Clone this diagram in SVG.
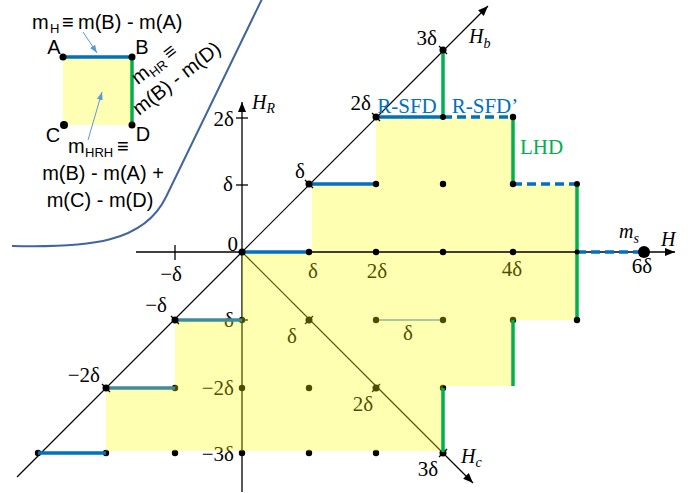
<svg xmlns="http://www.w3.org/2000/svg" width="700" height="493" viewBox="0 0 700 493">
<defs>
<marker id="ah" markerUnits="userSpaceOnUse" markerWidth="10" markerHeight="8" refX="10" refY="4" orient="auto"><path d="M0,0 L10,4 L0,8 z" fill="#000"/></marker>
<marker id="ahb" markerUnits="userSpaceOnUse" markerWidth="8" markerHeight="6" refX="8" refY="3" orient="auto"><path d="M0,0 L8,3 L0,6 z" fill="#5B9BD5"/></marker>
<style>
.ax{stroke:#000;stroke-width:1.3;fill:none}
.dg{stroke:#000;stroke-width:1.2;fill:none}
.bl{stroke:#0070C0;stroke-width:3.5;fill:none}
.bd{stroke:#0070C0;stroke-width:3.5;fill:none;stroke-dasharray:9 5}
.tl{stroke:#3F8C98;stroke-width:3.5;fill:none}
.gr{stroke:#00B050;stroke-width:3.5;fill:none}
.dot{fill:#000}
.m{font-family:"Liberation Serif","DejaVu Serif",serif;font-size:21px;fill:#000}
.mi{font-family:"Liberation Serif","DejaVu Serif",serif;font-size:20px;font-style:italic;fill:#000}
.sub{font-size:14px}
.s{font-family:"Liberation Sans",Arial,sans-serif;font-size:20px;fill:#000}
.ss{font-family:"Liberation Sans",Arial,sans-serif;font-size:13px;fill:#000}
.lb{font-family:"Liberation Serif","DejaVu Serif",serif;font-size:21px}
.ar{stroke:#5B9BD5;stroke-width:1;fill:none}
</style>
</defs>

<g id="inset">
<path d="M 12 246 C 90 248 144 242.5 166 197 L 262 -1" fill="none" stroke="#41659C" stroke-width="2"/>
<rect x="63" y="57" width="69" height="68" fill="#FFFFB3"/>
<line class="bl" x1="63" y1="57" x2="132" y2="57"/>
<line class="gr" x1="132" y1="57" x2="132" y2="125"/>
<circle class="dot" cx="63" cy="57" r="3.5"/>
<circle class="dot" cx="132" cy="57" r="3.5"/>
<circle class="dot" cx="64" cy="125" r="4"/>
<circle class="dot" cx="132" cy="125" r="3.5"/>
<text class="s" x="54" y="54" text-anchor="middle" font-size="18">A</text>
<text class="s" x="142" y="54" text-anchor="middle" font-size="18">B</text>
<text class="s" x="53" y="142" text-anchor="middle" font-size="18">C</text>
<text class="s" x="143" y="141" text-anchor="middle" font-size="18">D</text>
<text class="s" x="32" y="29">m</text>
<text class="ss" x="50" y="33">H</text>
<text class="s" x="62" y="29">≡</text>
<text class="s" x="78" y="29">m(B) - m(A)</text>
<line class="ar" x1="83" y1="32" x2="97" y2="53" marker-end="url(#ahb)"/>
<text class="s" x="68" y="153">m</text>
<text class="ss" x="85" y="157">HRH</text>
<text class="s" x="117" y="153">≡</text>
<text class="s" x="103" y="180" text-anchor="middle">m(B) - m(A) +</text>
<text class="s" x="100" y="207" text-anchor="middle">m(C) - m(D)</text>
<line class="ar" x1="88" y1="140" x2="102" y2="92" marker-end="url(#ahb)"/>
<g transform="translate(139,116) rotate(-38)">
<text class="s" x="18" y="-25">m</text>
<text class="ss" x="35" y="-21">HR</text>
<text class="s" x="58" y="-25">≡</text>
<text class="s" x="0" y="0">m(B) - m(D)</text>
</g>
</g>

<g id="under">
<line class="dg" x1="17" y1="477" x2="488" y2="6" marker-end="url(#ah)"/>
<line class="dg" x1="242" y1="252" x2="473" y2="483" marker-end="url(#ah)"/>
<line class="ax" x1="242" y1="492" x2="242" y2="102" marker-end="url(#ah)"/>
<line class="ax" x1="236" y1="118" x2="248" y2="118"/>
<line class="ax" x1="236" y1="185" x2="248" y2="185"/>
<line class="ax" x1="236" y1="320" x2="248" y2="320"/>
<line class="ax" x1="175" y1="245" x2="175" y2="260"/>
<line x1="376" y1="320" x2="443" y2="320" stroke="#5B9BD5" stroke-width="1.5"/>
<g class="dot">
<circle cx="242" cy="320" r="3.2"/><circle cx="309" cy="320" r="3.5"/><circle cx="376" cy="320" r="3.2"/><circle cx="443" cy="320" r="3.2"/><circle cx="513" cy="320" r="3.2"/>
<circle cx="175" cy="388" r="3.2"/><circle cx="242" cy="388" r="3.2"/><circle cx="309" cy="388" r="3.2"/><circle cx="376" cy="388" r="3.5"/><circle cx="443" cy="388" r="3.2"/>
<circle cx="38" cy="453" r="3.2"/><circle cx="106" cy="453" r="3.2"/><circle cx="175" cy="453" r="3.2"/><circle cx="242" cy="453" r="3.2"/><circle cx="309" cy="453" r="3.2"/><circle cx="376" cy="453" r="3.2"/><circle cx="443" cy="453" r="3.5"/>
</g>
<g class="dg">
<line x1="305" y1="324" x2="313" y2="316"/>
<line x1="372" y1="392" x2="380" y2="384"/>
<line x1="439" y1="457" x2="447" y2="449"/>
</g>
<text class="m" x="313" y="278" text-anchor="middle">δ</text>
<text class="m" x="377" y="278" text-anchor="middle">2δ</text>
<text class="m" x="512" y="276" text-anchor="middle">4δ</text>
<text class="m" x="234" y="327" text-anchor="end">−δ</text>
<text class="m" x="234" y="395" text-anchor="end">−2δ</text>
<text class="m" x="234" y="461" text-anchor="end">−3δ</text>
<text class="m" x="292" y="343" text-anchor="middle">δ</text>
<text class="m" x="363" y="411" text-anchor="middle">2δ</text>
<text class="m" x="408" y="340" text-anchor="middle" fill="#1A7FC8">δ</text>
</g>

<polygon id="region" points="376,117 513,117 513,184 577,184 577,320 513,320 513,386 443,386 443,451 106,451 106,388 175,388 175,320 242,320 242,252 312,252 312,184 376,184" fill="#FFFF00" fill-opacity="0.3"/>

<g id="connectors">
<line class="ax" x1="136" y1="252" x2="675" y2="252" marker-end="url(#ah)"/>
<line class="bl" x1="38" y1="453" x2="106" y2="453"/>
<line class="tl" x1="106" y1="388" x2="175" y2="388"/>
<line class="tl" x1="175" y1="320" x2="242" y2="320"/>
<line class="bl" x1="242" y1="252" x2="309" y2="252"/>
<line class="bl" x1="309" y1="184" x2="376" y2="184"/>
<line class="bl" x1="376" y1="117" x2="443" y2="117"/>
<line class="bd" x1="443" y1="117" x2="513" y2="117"/>
<line class="bd" x1="513" y1="184" x2="577" y2="184"/>
<line class="bd" x1="577" y1="252" x2="644" y2="252"/>
<line class="gr" x1="443" y1="50" x2="443" y2="117"/>
<line class="gr" x1="513" y1="117" x2="513" y2="184"/>
<line class="gr" x1="577" y1="184" x2="577" y2="320"/>
<line class="gr" x1="513" y1="320" x2="513" y2="386"/>
<line class="gr" x1="443" y1="388" x2="443" y2="452"/>
</g>

<g id="points">
<g class="dot">
<circle cx="443" cy="50" r="3.5"/>
<circle cx="376" cy="117" r="3.5"/><circle cx="443" cy="117" r="3"/><circle cx="513" cy="117" r="3.2"/>
<circle cx="309" cy="184" r="3.5"/><circle cx="376" cy="184" r="3.2"/><circle cx="443" cy="184" r="3.2"/><circle cx="513" cy="184" r="3.2"/><circle cx="577" cy="184" r="3"/>
<circle cx="242" cy="252" r="3.5"/><circle cx="309" cy="252" r="3.2"/><circle cx="376" cy="252" r="3.2"/><circle cx="443" cy="252" r="3.2"/><circle cx="513" cy="252" r="3.2"/><circle cx="577" cy="252" r="2.5"/>
<circle cx="175" cy="320" r="3.5"/><circle cx="577" cy="320" r="3.2"/>
<circle cx="106" cy="388" r="3.5"/>
<circle cx="644" cy="252" r="6"/>
</g>
<g class="dg">
<line x1="439" y1="46" x2="447" y2="54"/>
<line x1="372" y1="113" x2="380" y2="121"/>
<line x1="305" y1="180" x2="313" y2="188"/>
<line x1="171" y1="316" x2="179" y2="324"/>
<line x1="102" y1="384" x2="110" y2="392"/>
</g>
</g>

<g id="labels">
<text class="m" x="238" y="251" text-anchor="end">0</text>
<text class="m" x="234" y="126" text-anchor="end">2δ</text>
<text class="m" x="233" y="191" text-anchor="end">δ</text>
<text class="m" x="171" y="281" text-anchor="middle">−δ</text>
<text class="m" x="642" y="273" text-anchor="middle">6δ</text>
<text class="m" x="437" y="45" text-anchor="end">3δ</text>
<text class="m" x="371" y="110" text-anchor="end">2δ</text>
<text class="m" x="305" y="178" text-anchor="end">δ</text>
<text class="m" x="167" y="312" text-anchor="end">−δ</text>
<text class="m" x="100" y="382" text-anchor="end">−2δ</text>
<text class="m" x="428" y="476" text-anchor="middle">3δ</text>
<text class="mi" x="469" y="43">H<tspan class="sub" dy="5">b</tspan></text>
<text class="mi" x="252" y="109">H<tspan class="sub" dy="4">R</tspan></text>
<text class="mi" x="461" y="463">H<tspan class="sub" dy="4">c</tspan></text>
<text class="mi" x="661" y="246">H</text>
<text class="mi" x="619" y="238">m<tspan class="sub" dy="5">s</tspan></text>
<text class="lb" x="407" y="113" text-anchor="middle" fill="#0070C0">R-SFD</text>
<text class="lb" x="485" y="113" text-anchor="middle" fill="#0070C0">R-SFD’</text>
<text class="lb" x="520" y="154" fill="#00B050">LHD</text>
</g>
</svg>
